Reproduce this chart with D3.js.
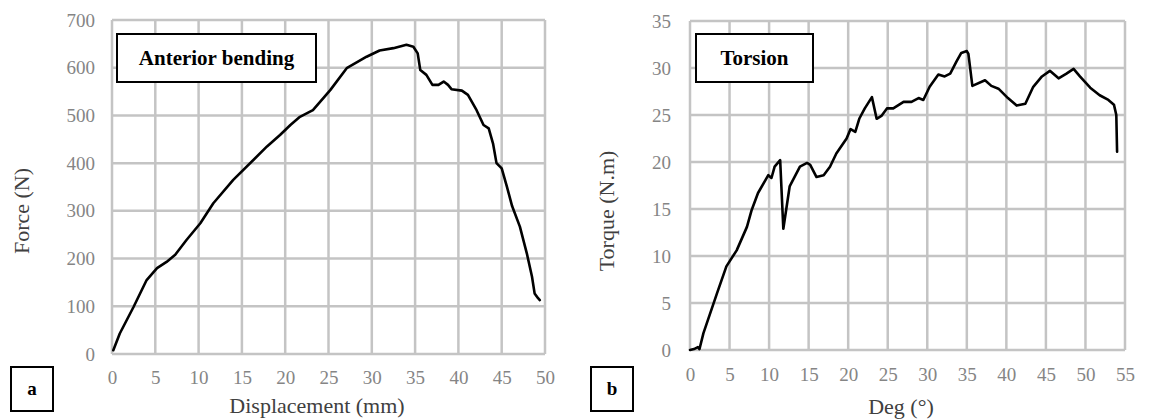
<!DOCTYPE html>
<html>
<head>
<meta charset="utf-8">
<script src="https://cdn.jsdelivr.net/npm/d3@7"></script>
<style>
  body { margin: 0; background: #fff; }
</style>
</head>
<body>
<div id="chart"></div>
<script>
// Panel a : flexion antérieure
const dispX = [0.15, 0.9, 2.5, 4.0, 5.2, 6.3, 7.3, 8.6, 10.2, 11.7, 14.0, 17.9, 19.4, 20.6, 21.7, 23.2, 25.2, 27.1, 29.4, 30.9, 32.5, 34.0, 34.8, 35.3, 35.6, 36.3, 37.0, 37.7, 38.3, 38.8, 39.2, 40.4, 41.1, 42.1, 42.9, 43.5, 44.0, 44.4, 45.0, 45.6, 46.2, 47.1, 47.9, 48.5, 48.8, 49.2, 49.4];
const forceY = [8, 43, 99, 155, 180, 193, 208, 239, 274, 316, 365, 435, 459, 480, 497, 511, 553, 599, 623, 636, 641, 648, 644, 630, 595, 585, 564, 564, 571, 564, 555, 552, 543, 511, 480, 473, 441, 400, 389, 351, 310, 267, 211, 162, 127, 117, 113];
const forceTicks = [0, 100, 200, 300, 400, 500, 600, 700];
const dispTicks = [0, 5, 10, 15, 20, 25, 30, 35, 40, 45, 50];

// Panel b : torsion
const degX = [0, 0.5, 1.0, 1.2, 1.7, 3.4, 4.6, 5.9, 7.2, 7.8, 8.6, 9.9, 10.3, 10.7, 11.4, 11.8, 12.6, 13.9, 14.8, 15.2, 16.0, 16.9, 17.7, 18.5, 19.8, 20.3, 20.9, 21.4, 22.1, 23.0, 23.6, 24.2, 24.9, 25.7, 27.0, 28.0, 28.9, 29.5, 30.3, 31.4, 32.2, 32.9, 33.7, 34.3, 35.0, 35.2, 35.7, 37.3, 38.1, 39.0, 40.2, 41.3, 42.4, 43.4, 44.5, 45.5, 46.6, 47.6, 48.5, 49.3, 50.6, 51.8, 52.9, 53.6, 53.9, 54.0];
const torqueY = [0, 0.1, 0.3, 0.1, 1.8, 6.0, 8.9, 10.6, 13.1, 14.9, 16.7, 18.6, 18.3, 19.5, 20.2, 12.9, 17.4, 19.5, 19.9, 19.7, 18.4, 18.6, 19.5, 20.9, 22.5, 23.5, 23.2, 24.6, 25.7, 26.9, 24.6, 24.9, 25.7, 25.7, 26.4, 26.4, 26.8, 26.6, 28.0, 29.3, 29.1, 29.4, 30.7, 31.6, 31.8, 31.5, 28.1, 28.7, 28.1, 27.8, 26.8, 26.0, 26.2, 28.0, 29.1, 29.7, 28.9, 29.4, 29.9, 29.1, 27.9, 27.1, 26.6, 26.1, 25.0, 21.1];
const torqueTicks = [0, 5, 10, 15, 20, 25, 30, 35];
const degTicks = [0, 5, 10, 15, 20, 25, 30, 35, 40, 45, 50, 55];

const SERIF = 'Liberation Serif, Times New Roman, serif';

const svg = d3.select('#chart')
    .append('svg')
    .attr('width', 1151)
    .attr('height', 419)
    .attr('font-family', SERIF);

function drawPanel(p) {
    const x = d3.scaleLinear().domain(p.xDomain).range([p.left, p.right]);
    const y = d3.scaleLinear().domain(p.yDomain).range([p.bottom, p.top]);

    // grille
    const grid = svg.append('g').attr('class', 'grid');
    grid.selectAll('.vline')
        .data(p.xTicks)
        .enter()
        .append('path')
        .attr('d', d => `M${x(d)},${p.top}V${p.bottom}`)
        .attr('stroke', '#c4c4c4')
        .attr('stroke-width', 2.5);
    grid.selectAll('.hline')
        .data(p.yTicks)
        .enter()
        .append('path')
        .attr('d', d => `M${p.left},${y(d)}H${p.right}`)
        .attr('stroke', '#c4c4c4')
        .attr('stroke-width', 2.5);

    // étiquettes des axes
    const gx = svg.append('g')
        .attr('transform', `translate(0,${p.bottom})`)
        .call(d3.axisBottom(x).tickValues(p.xTicks).tickSize(0).tickPadding(p.xPad));
    const gy = svg.append('g')
        .attr('transform', `translate(${p.left},0)`)
        .call(d3.axisLeft(y).tickValues(p.yTicks).tickSize(0).tickPadding(p.yPad));

    [gx, gy].forEach(g => {
        g.attr('font-family', SERIF).attr('font-size', 19);
        g.select('.domain').remove();
        g.selectAll('.tick line').remove();
        g.selectAll('.tick text').attr('fill', '#858585');
    });

    // courbe
    const line = d3.line()
        .x(d => x(d[0]))
        .y(d => y(d[1]));
    svg.append('path')
        .datum(p.xs.map((v, i) => [v, p.ys[i]]))
        .attr('d', line)
        .attr('fill', 'none')
        .attr('stroke', '#000')
        .attr('stroke-width', 2.6)
        .attr('stroke-linejoin', 'round')
        .attr('stroke-linecap', 'round');

    // titres des axes
    svg.append('text')
        .text(p.xTitle)
        .attr('x', p.xTitleX)
        .attr('y', p.xTitleY)
        .attr('text-anchor', 'middle')
        .attr('fill', '#404040')
        .attr('font-size', 22);

    svg.append('text')
        .text(p.yTitle)
        .attr('transform', `translate(${p.yTitleX},${p.yTitleY}) rotate(-90)`)
        .attr('text-anchor', 'middle')
        .attr('fill', '#404040')
        .attr('font-size', 22);

    // encadré du titre
    svg.append('rect')
        .attr('x', p.box[0]).attr('y', p.box[1])
        .attr('width', p.box[2]).attr('height', p.box[3])
        .attr('fill', '#fff')
        .attr('stroke', '#000')
        .attr('stroke-width', 2);
    svg.append('text')
        .text(p.label)
        .attr('x', p.box[0] + p.box[2] / 2)
        .attr('y', p.box[1] + p.box[3] / 2 + 7)
        .attr('text-anchor', 'middle')
        .attr('font-weight', 'bold')
        .attr('font-size', 21);

    // lettre du panneau
    svg.append('rect')
        .attr('x', p.tag[0]).attr('y', p.tag[1])
        .attr('width', 42).attr('height', 44)
        .attr('fill', '#fff')
        .attr('stroke', '#000')
        .attr('stroke-width', 2);
    svg.append('text')
        .text(p.letter)
        .attr('x', p.tag[0] + 21)
        .attr('y', p.tag[1] + 28)
        .attr('text-anchor', 'middle')
        .attr('font-weight', 'bold')
        .attr('font-size', 19);
}

drawPanel({
    left: 112, right: 545, top: 20, bottom: 354,
    xDomain: [0, 50], yDomain: [0, 700],
    xTicks: dispTicks, yTicks: forceTicks,
    xPad: 17, yPad: 17,
    xs: dispX, ys: forceY,
    xTitle: 'Displacement (mm)', xTitleX: 317, xTitleY: 413,
    yTitle: 'Force (N)', yTitleX: 29, yTitleY: 211,
    box: [117, 34, 199, 48], label: 'Anterior bending',
    tag: [11, 367], letter: 'a'
});

drawPanel({
    left: 690, right: 1125, top: 21, bottom: 350,
    xDomain: [0, 55], yDomain: [0, 35],
    xTicks: degTicks, yTicks: torqueTicks,
    xPad: 18, yPad: 19,
    xs: degX, ys: torqueY,
    xTitle: 'Deg (°)', xTitleX: 901, xTitleY: 414,
    yTitle: 'Torque (N.m)', yTitleX: 614, yTitleY: 211,
    box: [696, 34, 117, 48], label: 'Torsion',
    tag: [591, 367], letter: 'b'
});
</script>
</body>
</html>
